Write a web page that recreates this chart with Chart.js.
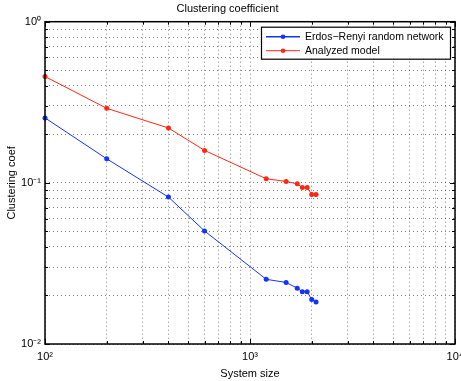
<!DOCTYPE html>
<html>
<head>
<meta charset="utf-8">
<script src="https://cdn.jsdelivr.net/npm/chart.js@4/dist/chart.umd.min.js"></script>
<style>
  html, body { margin: 0; padding: 0; background: #fff; }
  #wrap { width: 461px; height: 381px; position: relative; }
</style>
</head>
<body>
<div id="wrap"><canvas id="mychart"></canvas></div>
<script>
// data
var systemSize = [100, 200, 400, 600, 1200, 1500, 1700, 1800, 1900, 2000, 2100];
var erdosRenyi = [0.253, 0.141, 0.0816, 0.0503, 0.0252, 0.0241, 0.0222, 0.0211, 0.0211, 0.0189, 0.0182];
var analyzed = [0.457, 0.290, 0.219, 0.159, 0.106, 0.102, 0.0986, 0.0935, 0.0935, 0.0847, 0.0847];
var seriesNames = ['Erdos\u2212Renyi random network', 'Analyzed model'];
var seriesColors = ['rgb(20,50,255)', 'rgb(255,40,20)'];
var xDecades = [2, 3, 4];
var xTickLabels = ['10\u00b2', '10\u00b3', '10\u2074'];
var yDecades = [-2, -1, 0];
var yTickLabels = ['10\u207b\u00b2', '10\u207b\u00b9', '10\u2070'];

var FONT = 'Liberation Sans, Arial, Helvetica, sans-serif';

// all 1..9 x 10^n ticks between two decades
function logTicks(minExp, maxExp) {
  var t = [];
  for (var e = minExp; e < maxExp; e++) {
    for (var k = 1; k < 10; k++) t.push({value: k * Math.pow(10, e), major: k == 1});
  }
  t.push({value: Math.pow(10, maxExp), major: true});
  return t;
}

function decadeLabel(v, decades, labels) {
  var e = Math.log10(v);
  var r = Math.round(e);
  if (Math.abs(e - r) > 1e-6) return '';
  var i = decades.indexOf(r);
  return i >= 0 ? labels[i] : '';
}

function toPoints(xs, ys) {
  var pts = [];
  for (var i = 0; i < xs.length; i++) pts.push({x: xs[i], y: ys[i]});
  return pts;
}

// box around the axes with small inward tick marks (matlab style)
var axesBox = {
  id: 'axesBox',
  afterDatasetsDraw: function(chart) {
    var ctx = chart.ctx, a = chart.chartArea;
    var xs = chart.scales.x, ys = chart.scales.y;
    ctx.save();
    ctx.strokeStyle = '#000';
    ctx.lineWidth = 1;
    ctx.beginPath();
    xs.ticks.forEach(function(t) {
      var px = Math.round(xs.getPixelForValue(t.value)) + 0.5;
      var len = t.major ? 5 : 3;
      ctx.moveTo(px, a.bottom); ctx.lineTo(px, a.bottom - len);
      ctx.moveTo(px, a.top); ctx.lineTo(px, a.top + len);
    });
    ys.ticks.forEach(function(t) {
      var py = Math.round(ys.getPixelForValue(t.value)) + 0.5;
      var len = t.major ? 5 : 3;
      ctx.moveTo(a.left, py); ctx.lineTo(a.left + len, py);
      ctx.moveTo(a.right, py); ctx.lineTo(a.right - len, py);
    });
    ctx.stroke();
    ctx.lineWidth = 1.5;
    ctx.strokeRect(a.left, a.top, a.right - a.left, a.bottom - a.top);
    ctx.restore();
  }
};

// legend drawn in the upper right corner of the axes
var boxLegend = {
  id: 'boxLegend',
  afterDraw: function(chart) {
    var ctx = chart.ctx, a = chart.chartArea;
    var w = 189, h = 32;
    var left = a.right - 5 - w, top = a.top + 5;
    ctx.save();
    ctx.fillStyle = '#fff';
    ctx.fillRect(left, top, w, h);
    ctx.strokeStyle = '#000';
    ctx.lineWidth = 1.2;
    ctx.strokeRect(left + 0.5, top + 0.5, w, h);
    ctx.font = '10.5px ' + FONT;
    ctx.textBaseline = 'middle';
    chart.data.datasets.forEach(function(ds, i) {
      var y = top + 10 + i * 14;
      ctx.strokeStyle = ds.borderColor;
      ctx.lineWidth = i == 0 ? 1.6 : 1;
      ctx.beginPath();
      ctx.moveTo(left + 5, y); ctx.lineTo(left + 39, y);
      ctx.stroke();
      ctx.fillStyle = ds.borderColor;
      ctx.beginPath();
      ctx.arc(left + 22, y, 2.3, 0, Math.PI * 2);
      ctx.fill();
      ctx.fillStyle = '#000';
      ctx.fillText(ds.label, left + 44, y + 0.5);
    });
    ctx.restore();
  }
};

var gridStyle = {color: 'rgba(0,0,0,0.5)', lineWidth: 1, drawTicks: false};

var ctx = document.getElementById('mychart');
var myChart = new Chart(ctx, {
  type: 'line',
  data: {
    datasets: [{
      label: seriesNames[0],
      data: toPoints(systemSize, erdosRenyi),
      borderColor: seriesColors[0],
      backgroundColor: seriesColors[0],
      borderWidth: 1,
      pointRadius: 2.5,
      pointBorderWidth: 0,
      clip: false
    }, {
      label: seriesNames[1],
      data: toPoints(systemSize, analyzed),
      borderColor: seriesColors[1],
      backgroundColor: seriesColors[1],
      borderWidth: 1,
      pointRadius: 2.5,
      pointBorderWidth: 0,
      clip: false
    }]
  },
  options: {
    responsive: true,
    maintainAspectRatio: false,
    animation: false,
    events: [],
    layout: {padding: {top: 0, right: 6, bottom: 0, left: 0}},
    plugins: {
      legend: {display: false},
      tooltip: {enabled: false},
      title: {
        display: true,
        text: 'Clustering coefficient',
        color: '#000',
        font: {family: FONT, size: 11, weight: 'normal'},
        padding: {top: 2, bottom: 6.5}
      }
    },
    scales: {
      x: {
        type: 'logarithmic',
        min: 100,
        max: 10000,
        grid: gridStyle,
        border: {display: false, dash: [1, 3]},
        afterBuildTicks: function(s) { s.ticks = logTicks(2, 4); },
        afterFit: function(s) { s.height = 37; s.paddingLeft = 0; s.paddingRight = 0; },
        ticks: {
          autoSkip: false,
          maxRotation: 0,
          padding: 6,
          color: '#000',
          font: {family: FONT, size: 11},
          callback: function(v) { return decadeLabel(v, xDecades, xTickLabels); }
        },
        title: {
          display: true,
          text: 'System size',
          color: '#000',
          font: {family: FONT, size: 11},
          padding: {top: 0, bottom: 0}
        }
      },
      y: {
        type: 'logarithmic',
        min: 0.01,
        max: 1,
        grid: gridStyle,
        border: {display: false, dash: [1, 3]},
        afterBuildTicks: function(s) { s.ticks = logTicks(-2, 0); },
        afterFit: function(s) { s.width = 45; s.paddingTop = 0; s.paddingBottom = 0; },
        ticks: {
          autoSkip: false,
          padding: 4,
          color: '#000',
          font: {family: FONT, size: 11},
          callback: function(v) { return decadeLabel(v, yDecades, yTickLabels); }
        },
        title: {
          display: true,
          text: 'Clustering coef',
          color: '#000',
          font: {family: FONT, size: 11},
          padding: {top: 5, bottom: 0}
        }
      }
    }
  },
  plugins: [axesBox, boxLegend]
});
</script>
</body>
</html>
